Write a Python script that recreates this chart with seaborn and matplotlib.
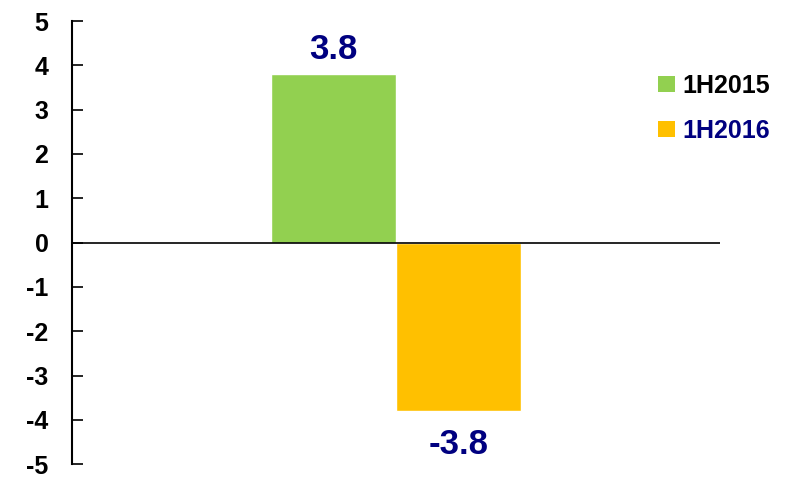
import matplotlib
matplotlib.use("Agg")
import matplotlib.pyplot as plt
import seaborn as sns
import pandas as pd
from matplotlib.patches import Patch

# --- data ---
periods = ["1H2015", "1H2016"]
values = [3.8, -3.8]
colors = ["#92D050", "#FFC000"]
label_colors = ["black", "#000080"]

df = pd.DataFrame({"group": ["", ""], "period": periods, "value": values})

sns.set_style("white")
plt.rcParams['font.family'] = ['Liberation Sans', 'DejaVu Sans']
plt.rcParams['axes.unicode_minus'] = False

fig = plt.figure(figsize=(7.87, 4.78), dpi=100)
ax = fig.add_axes([0.0915, 0.029, 0.8235, 0.927])

sns.barplot(data=df, x="group", y="value", hue="period", palette=colors,
            saturation=1, width=0.8, dodge=True, legend=False, ax=ax)

# value labels
for cont in ax.containers:
    v = cont.datavalues[0]
    ax.bar_label(cont, labels=[f"{v:.1f}"], padding=6 if v > 0 else 12,
                 fontsize=25, fontweight="bold", color="#000080")

ax.axhline(0, color="black", lw=1.2)
ax.set_xlim(-1.04, 1.04)
ax.set_ylim(-5, 5)
ax.set_yticks(range(-5, 6))
ax.set_xticks([])
ax.set_xlabel("")
ax.set_ylabel("")
for s in ["top", "right", "bottom"]:
    ax.spines[s].set_visible(False)
ax.spines["left"].set_linewidth(1.5)
ax.spines["left"].set_color("black")
ax.tick_params(axis="y", left=True, direction="in", length=8, width=1.2, pad=17,
               labelsize=18, colors="black")
for t in ax.get_yticklabels():
    t.set_fontweight("bold")

# legend
handles = [Patch(facecolor=c, edgecolor="none") for c in colors]
leg = fig.legend(handles, periods, loc="upper left", bbox_to_anchor=(0.808, 0.893),
                 frameon=False, handlelength=0.65, handleheight=0.65,
                 handletextpad=0.3, labelspacing=0.85,
                 prop={"size": 18, "weight": "bold"})
for txt, c in zip(leg.get_texts(), label_colors):
    txt.set_color(c)

fig.savefig("out.png", dpi=100)
